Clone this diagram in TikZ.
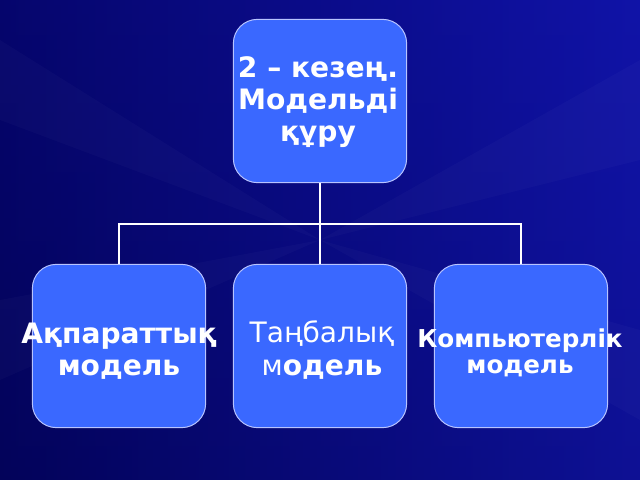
\documentclass[tikz,border=0pt]{standalone}
\usepackage{fontspec}
\setmainfont{DejaVu Sans}
\usetikzlibrary{positioning}
\definecolor{bgdark}{HTML}{03035A}
\definecolor{bgmid}{HTML}{0A0A90}
\definecolor{bglight}{HTML}{1418B4}
\definecolor{boxblue}{HTML}{3A68FF}
\definecolor{boxline}{HTML}{B8C4FF}
\tikzset{
  stage/.style={draw=boxline, line width=0.7pt, fill=boxblue, rounded corners=17pt,
    minimum width=4.33cm, minimum height=4.08cm, inner sep=0pt},
  caption/.style={text=white, align=center, inner sep=0pt},
  link/.style={draw=white, line width=1.4pt}
}
\begin{document}
\begin{tikzpicture}[x=0.025cm,y=-0.025cm]
% background
\shade[left color=bgdark, right color=bglight] (0,0) rectangle (640,480);
\shade[top color=bgmid, bottom color=bgdark, opacity=0.35] (0,0) rectangle (640,480);
\foreach \a/\b/\c/\d in {0/40/0/120,0/300/0/380,640/60/640/160,640/330/640/420}
  {\fill[white, opacity=0.025] (\a,\b) -- (320,240) -- (\c,\d) -- cycle;}
\useasboundingbox (0,0) rectangle (640,480);
% boxes
\node[stage] (top) at (320,101) {};
\node[stage] (info) at (119,346) {};
\node[stage] (sign) at (320,346) {};
\node[stage] (comp) at (521,346) {};
% connectors
\coordinate (bus) at (320,224);
\draw[link] (top.south) -- (bus);
\draw[link] (info.north) |- (bus) -| (comp.north);
\draw[link] (bus) -- (sign.north);
% texts
\node[caption, font=\bfseries\fontsize{20}{23}\selectfont] (toptext) at (318,102)
  {2 – кезең.\\Модельді\\құру};
\node[caption, font=\bfseries\fontsize{20}{23}\selectfont] (infotext) at (119,351)
  {Ақпараттық\\модель};
\node[caption, font=\fontsize{20}{24}\selectfont] (signtext) at (322,350)
  {Таңбалық\\м\textbf{одель}};
\node[caption, font=\bfseries\fontsize{17.5}{18.5}\selectfont] (comptext) at (520,353)
  {Компьютерлік\\модель};
\end{tikzpicture}
\end{document}
